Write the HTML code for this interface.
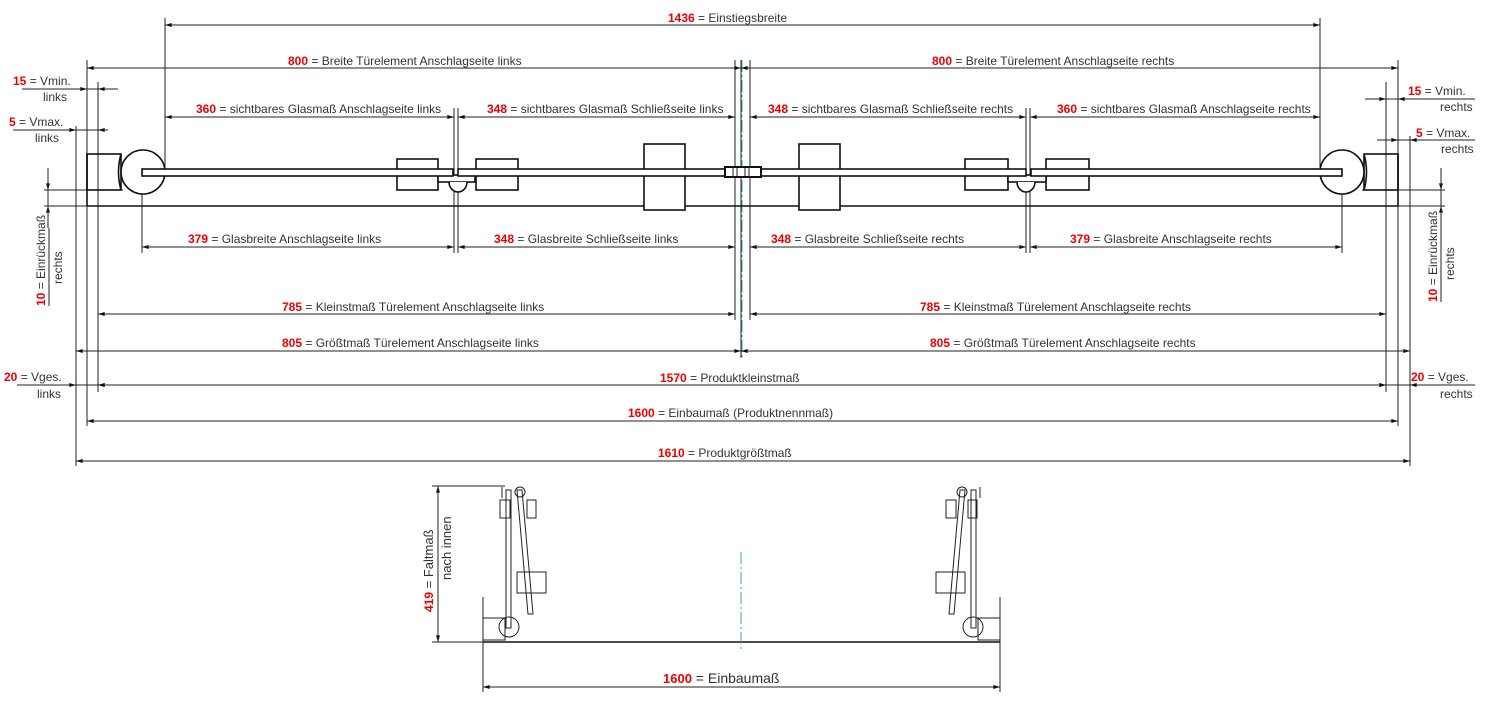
<!DOCTYPE html>
<html><head><meta charset="utf-8"><style>
html,body{margin:0;padding:0;background:#fff}
svg{display:block}
text{font-family:"Liberation Sans Narrow","Liberation Sans",sans-serif;font-size:12px;fill:#333}
.n{fill:#e00;font-weight:bold;font-family:"Liberation Sans",sans-serif;font-size:12px}
.l{stroke:#222;stroke-width:1;fill:none}
.t{stroke:#111;stroke-width:1.6;fill:none}
.g{stroke:#111;stroke-width:1.6;fill:#fff}
</style></head><body>
<svg width="1493" height="717" viewBox="0 0 1493 717" xmlns="http://www.w3.org/2000/svg">
<defs>
<marker id="a" viewBox="0 0 10 6" refX="10" refY="3" markerWidth="8" markerHeight="4" orient="auto-start-reverse" markerUnits="userSpaceOnUse"><path d="M0,0L10,3L0,6z" fill="#111"/></marker>
</defs>

<!-- extension lines -->
<g class="l">
<line x1="76" y1="126" x2="76" y2="466"/>
<line x1="87" y1="60" x2="87" y2="426"/>
<line x1="98" y1="82" x2="98" y2="392"/>
<line x1="165" y1="18" x2="165" y2="168"/>
<line x1="1320" y1="18" x2="1320" y2="168"/>
<line x1="142" y1="172" x2="142" y2="253"/>
<line x1="1342" y1="172" x2="1342" y2="253"/>
<line x1="454" y1="108" x2="454" y2="253"/>
<line x1="458" y1="108" x2="458" y2="253"/>
<line x1="1026" y1="108" x2="1026" y2="253"/>
<line x1="1030" y1="108" x2="1030" y2="253"/>
<line x1="735" y1="60" x2="735" y2="320"/>
<line x1="750" y1="60" x2="750" y2="320"/>
<line x1="741" y1="60" x2="741" y2="358"/>
<line x1="1386" y1="82" x2="1386" y2="392"/>
<line x1="1398" y1="60" x2="1398" y2="426"/>
<line x1="1410" y1="136" x2="1410" y2="466"/>
</g>
<line x1="742" y1="60" x2="742" y2="360" stroke="#3aa" stroke-width="1" stroke-dasharray="12,3,2,3"/>

<!-- dimension lines -->
<g class="l" marker-start="url(#a)" marker-end="url(#a)">
<line x1="165" y1="25" x2="1320" y2="25"/>
<line x1="87" y1="68" x2="741" y2="68"/>
<line x1="741" y1="68" x2="1398" y2="68"/>
<line x1="165" y1="117" x2="454" y2="117"/>
<line x1="458" y1="117" x2="735" y2="117"/>
<line x1="750" y1="117" x2="1026" y2="117"/>
<line x1="1030" y1="117" x2="1320" y2="117"/>
<line x1="142" y1="247" x2="454" y2="247"/>
<line x1="458" y1="247" x2="735" y2="247"/>
<line x1="750" y1="247" x2="1026" y2="247"/>
<line x1="1030" y1="247" x2="1342" y2="247"/>
<line x1="98" y1="314" x2="735" y2="314"/>
<line x1="750" y1="314" x2="1386" y2="314"/>
<line x1="76" y1="351" x2="741" y2="351"/>
<line x1="741" y1="351" x2="1410" y2="351"/>
<line x1="98" y1="385" x2="1386" y2="385"/>
<line x1="87" y1="421" x2="1398" y2="421"/>
<line x1="76" y1="461" x2="1410" y2="461"/>
</g>

<!-- small outside dims -->
<g class="l">
<line x1="22" y1="89" x2="118" y2="89"/>
<line x1="13" y1="130" x2="108" y2="130"/>
<line x1="17" y1="385" x2="123" y2="385"/>
<line x1="1365" y1="99" x2="1475" y2="99"/>
<line x1="1377" y1="140" x2="1475" y2="140"/>
<line x1="1372" y1="385" x2="1475" y2="385"/>
</g>
<g class="l" marker-end="url(#a)">
<line x1="70" y1="89" x2="87" y2="89"/><line x1="115" y1="89" x2="98" y2="89"/>
<line x1="60" y1="130" x2="76" y2="130"/><line x1="108" y1="130" x2="98" y2="130"/>
<line x1="60" y1="385" x2="76" y2="385"/><line x1="115" y1="385" x2="98" y2="385"/>
<line x1="1368" y1="99" x2="1386" y2="99"/><line x1="1415" y1="99" x2="1398" y2="99"/>
<line x1="1380" y1="140" x2="1398" y2="140"/><line x1="1425" y1="140" x2="1410" y2="140"/>
<line x1="1372" y1="385" x2="1386" y2="385"/><line x1="1425" y1="385" x2="1410" y2="385"/>
<line x1="48" y1="168" x2="48" y2="190"/><line x1="48" y1="228" x2="48" y2="206"/>
<line x1="1441" y1="168" x2="1441" y2="190"/><line x1="1441" y1="228" x2="1441" y2="206"/>
</g>
<g class="l">
<line x1="44" y1="190" x2="123" y2="190"/><line x1="44" y1="206" x2="87" y2="206"/>
<line x1="1362" y1="190" x2="1445" y2="190"/><line x1="1398" y1="206" x2="1445" y2="206"/>
<line x1="48" y1="168" x2="48" y2="228"/><line x1="1441" y1="168" x2="1441" y2="228"/>
</g>

<!-- top plan view -->
<g class="t">
<line x1="87" y1="206" x2="1398" y2="206"/>
<rect x="87" y="154" width="34" height="36"/>
<rect x="1364" y="154" width="34" height="36"/>
<line x1="87" y1="154" x2="87" y2="206"/><line x1="1398" y1="154" x2="1398" y2="206"/>
<path d="M121,154 q-5,18 0,36"/><path d="M1364,154 q5,18 0,36"/>
</g>
<circle class="g" cx="143" cy="172" r="22"/>
<circle class="g" cx="1342" cy="172" r="22"/>
<g class="g">
<rect x="397" y="159" width="41" height="31"/>
<rect x="476" y="159" width="42" height="31"/>
<rect x="965" y="159" width="43" height="31"/>
<rect x="1046" y="159" width="43" height="31"/>
<rect x="644" y="144" width="41" height="66"/>
<rect x="799" y="144" width="41" height="66"/>
<rect x="438" y="175" width="37" height="7"/>
<rect x="1008" y="175" width="38" height="7"/>
<path d="M449,182 a9,10 0 1 0 18,0"/>
<path d="M1017,182 a9,10 0 1 0 18,0"/>
<rect x="142" y="169" width="311" height="7"/>
<rect x="458" y="169" width="276" height="7"/>
<rect x="751" y="169" width="275" height="7"/>
<rect x="1031" y="169" width="311" height="7"/>
<rect x="725" y="167" width="36" height="10" stroke-width="2"/>
</g>
<g class="l"><line x1="733" y1="168" x2="733" y2="176"/><line x1="737" y1="168" x2="737" y2="176"/><line x1="745" y1="168" x2="745" y2="176"/><line x1="749" y1="168" x2="749" y2="176"/></g>

<!-- texts -->
<text x="668" y="22"><tspan class="n">1436</tspan> = Einstiegsbreite</text>
<text x="288" y="65"><tspan class="n">800</tspan>  = Breite Türelement Anschlagseite links</text>
<text x="932" y="65"><tspan class="n">800</tspan>   = Breite Türelement Anschlagseite rechts</text>
<text x="196" y="113"><tspan class="n">360</tspan> = sichtbares Glasmaß Anschlagseite links</text>
<text x="487" y="113"><tspan class="n">348</tspan> = sichtbares Glasmaß Schließseite links</text>
<text x="768" y="113"><tspan class="n">348</tspan> = sichtbares Glasmaß Schließseite rechts</text>
<text x="1057" y="113"><tspan class="n">360</tspan> = sichtbares Glasmaß Anschlagseite rechts</text>
<text x="188" y="243"><tspan class="n">379</tspan>  = Glasbreite Anschlagseite links</text>
<text x="494" y="243"><tspan class="n">348</tspan> = Glasbreite Schließseite links</text>
<text x="771" y="243"><tspan class="n">348</tspan> = Glasbreite Schließseite rechts</text>
<text x="1070" y="243"><tspan class="n">379</tspan>  = Glasbreite Anschlagseite rechts</text>
<text x="282" y="311"><tspan class="n">785</tspan> = Kleinstmaß Türelement Anschlagseite links</text>
<text x="920" y="311"><tspan class="n">785</tspan> = Kleinstmaß Türelement Anschlagseite rechts</text>
<text x="282" y="347"><tspan class="n">805</tspan> = Größtmaß Türelement Anschlagseite links</text>
<text x="930" y="347"><tspan class="n">805</tspan> = Größtmaß Türelement Anschlagseite rechts</text>
<text x="660" y="382"><tspan class="n">1570</tspan> = Produktkleinstmaß</text>
<text x="628" y="417"><tspan class="n">1600</tspan> = Einbaumaß (Produktnennmaß)</text>
<text x="658" y="457"><tspan class="n">1610</tspan> = Produktgrößtmaß</text>

<text x="13" y="85"><tspan class="n">15</tspan> = Vmin.</text><text x="43" y="101">links</text>
<text x="9" y="126"><tspan class="n">5</tspan>  = Vmax.</text><text x="35" y="142">links</text>
<text x="4" y="381"><tspan class="n">20</tspan> = Vges.</text><text x="37" y="398">links</text>
<text x="1408" y="95"><tspan class="n">15</tspan> = Vmin.</text><text x="1440" y="111">rechts</text>
<text x="1416" y="137"><tspan class="n">5</tspan> = Vmax.</text><text x="1441" y="153">rechts</text>
<text x="1411" y="381"><tspan class="n">20</tspan> = Vges.</text><text x="1440" y="398">rechts</text>

<g transform="translate(45,306) rotate(-90)"><text x="0" y="0"><tspan class="n">10</tspan> = Einrückmaß</text><text x="22" y="17">rechts</text><line class="l" x1="0" y1="4" x2="78" y2="4"/></g>
<g transform="translate(1437,302) rotate(-90)"><text x="0" y="0"><tspan class="n">10</tspan> = Einrückmaß</text><text x="22" y="17">rechts</text><line class="l" x1="0" y1="4" x2="78" y2="4"/></g>

<!-- bottom fold view -->
<g class="l">
<line x1="432" y1="486" x2="505" y2="486"/>
<line x1="432" y1="642" x2="483" y2="642"/>
<line x1="483" y1="597" x2="483" y2="692"/>
<line x1="1000" y1="597" x2="1000" y2="692"/>
</g>
<line class="l" x1="438" y1="486" x2="438" y2="642" marker-start="url(#a)" marker-end="url(#a)"/>
<line class="l" x1="483" y1="687" x2="1000" y2="687" marker-start="url(#a)" marker-end="url(#a)"/>
<line class="t" x1="483" y1="642" x2="1000" y2="642"/>
<line x1="741" y1="552" x2="741" y2="650" stroke="#3aa" stroke-width="1" stroke-dasharray="12,3,2,3"/>
<g class="l">
<rect x="483" y="618" width="22" height="22"/>
<rect x="978" y="618" width="22" height="22"/>
<rect x="500" y="500" width="10" height="18"/><rect x="527" y="500" width="9" height="18"/>
<rect x="517" y="572" width="29" height="21"/>
<rect x="946" y="500" width="10" height="18"/><rect x="968" y="500" width="9" height="18"/>
<rect x="936" y="572" width="29" height="21"/>
<circle cx="509" cy="627" r="10"/><circle cx="973" cy="627" r="10"/>
<circle cx="520" cy="492" r="5"/><circle cx="962" cy="492" r="5"/>
<rect x="506" y="490" width="5" height="138"/>
<rect x="971" y="490" width="5" height="138"/>
<path d="M517,490 L522,490 L533,614 L528,614 Z"/>
<path d="M960,490 L965,490 L954,614 L949,614 Z"/>
<line x1="502" y1="487" x2="502" y2="498"/><line x1="980" y1="487" x2="980" y2="498"/>
</g>
<g transform="translate(433,612) rotate(-90)"><text x="0" y="0" style="font-size:13px"><tspan class="n" style="font-size:12px">419</tspan>  = Faltmaß</text><text x="32" y="18" style="font-size:13px">nach innen</text></g>
<text x="663" y="683" style="font-size:14px"><tspan class="n" style="font-size:13px">1600</tspan>  = Einbaumaß</text>
</svg>
</body></html>
